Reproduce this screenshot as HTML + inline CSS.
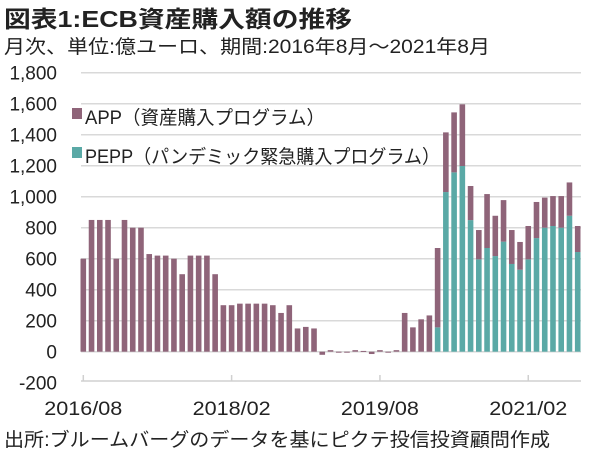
<!DOCTYPE html>
<html><head><meta charset="utf-8"><style>
body{margin:0;background:#fff;}
svg text{font-family:"Liberation Sans","Noto Sans CJK JP",sans-serif;fill:#222;}
</style></head><body>
<svg width="603" height="456" viewBox="0 0 603 456">
<text x="4" y="27" font-size="23" font-weight="bold" textLength="348" lengthAdjust="spacingAndGlyphs">図表1:ECB資産購入額の推移</text>
<text x="4" y="53" font-size="19" textLength="486" lengthAdjust="spacingAndGlyphs">月次、単位:億ユーロ、期間:2016年8月～2021年8月</text>
<g id="grid"></g>
<g id="bars"></g>
<g id="axis"></g>
<g>
<rect x="72" y="108" width="10" height="11" fill="#8f6479"/>
<text x="85" y="124" font-size="19" textLength="240" lengthAdjust="spacingAndGlyphs">APP（資産購入プログラム）</text>
<rect x="72" y="147" width="10" height="11" fill="#5aa9a6"/>
<text x="85" y="163" font-size="19" textLength="355" lengthAdjust="spacingAndGlyphs">PEPP（パンデミック緊急購入プログラム）</text>
</g>
<text x="4" y="446" font-size="19" textLength="546" lengthAdjust="spacingAndGlyphs">出所:ブルームバーグのデータを基にピクテ投信投資顧問作成</text>
</svg>
<script>
const appValues=[600,850,850,850,600,850,800,800,630,620,620,600,500,620,620,620,500,300,300,310,310,310,310,300,250,300,150,160,150,-20,10,-5,-5,10,5,-15,10,-5,10,250,157,209,234,512,385,387,398,220,189,348,260,268,219,179,215,233,194,193,204,215,168];
const peppValues=[0,0,0,0,0,0,0,0,0,0,0,0,0,0,0,0,0,0,0,0,0,0,0,0,0,0,0,0,0,0,0,0,0,0,0,0,0,0,0,0,0,0,0,157,1030,1157,1198,849,596,669,617,710,566,529,596,733,800,811,800,877,643];
const yTicks=[-200,0,200,400,600,800,1000,1200,1400,1600,1800];
const xTickIdx=[0,18,36,54];
const xTickLabels=["2016/08","2018/02","2019/08","2021/02"];
const NS="http://www.w3.org/2000/svg";
const y0=351.7,pxPer=31/200,x0=83.3,step=8.24,bw=5.6;
function yS(v){return y0-v*pxPer;}
function xS(i){return x0+i*step;}
function mk(tag,attrs,parent){const e=document.createElementNS(NS,tag);for(const k in attrs)e.setAttribute(k,attrs[k]);parent.appendChild(e);return e;}
const grid=document.getElementById('grid'),bars=document.getElementById('bars'),axis=document.getElementById('axis');
yTicks.forEach(t=>{
  if(t>-200){const l=mk('line',{x1:81,x2:581,y1:yS(t),y2:yS(t),stroke:'#d9d9d9','stroke-width':1.5},grid);
  
  }
  const tx=mk('text',{x:57,y:yS(t)+7,'font-size':19,'text-anchor':'end'},grid);
  tx.textContent=t.toLocaleString('en-US');
  
  
});
appValues.forEach((a,i)=>{
  const p=peppValues[i];
  const x=xS(i)-bw/2;
  if(p>0){const r=mk('rect',{x:x,y:yS(p),width:bw,height:p*pxPer,fill:'#5aa9a6'},bars);
  
  }
  const base=p;
  const top=Math.max(base,base+a),bot=Math.min(base,base+a);
  const r2=mk('rect',{x:x,y:yS(top),width:bw,height:Math.max(1,(top-bot)*pxPer),fill:'#8f6479'},bars);
  
  
});
const ax=mk('line',{x1:81,x2:581,y1:381,y2:381,stroke:'#d0d0d0','stroke-width':1.5},axis);


xTickIdx.forEach((idx,k)=>{
  const tk=mk('line',{x1:xS(idx),x2:xS(idx),y1:375,y2:381,stroke:'#d0d0d0','stroke-width':1.5},axis);
  
  
  const tx=mk('text',{x:xS(idx),y:415,'font-size':19,'text-anchor':'middle',textLength:78,lengthAdjust:'spacingAndGlyphs'},axis);
  tx.textContent=xTickLabels[k];
  
  
});
</script>
</body></html>
